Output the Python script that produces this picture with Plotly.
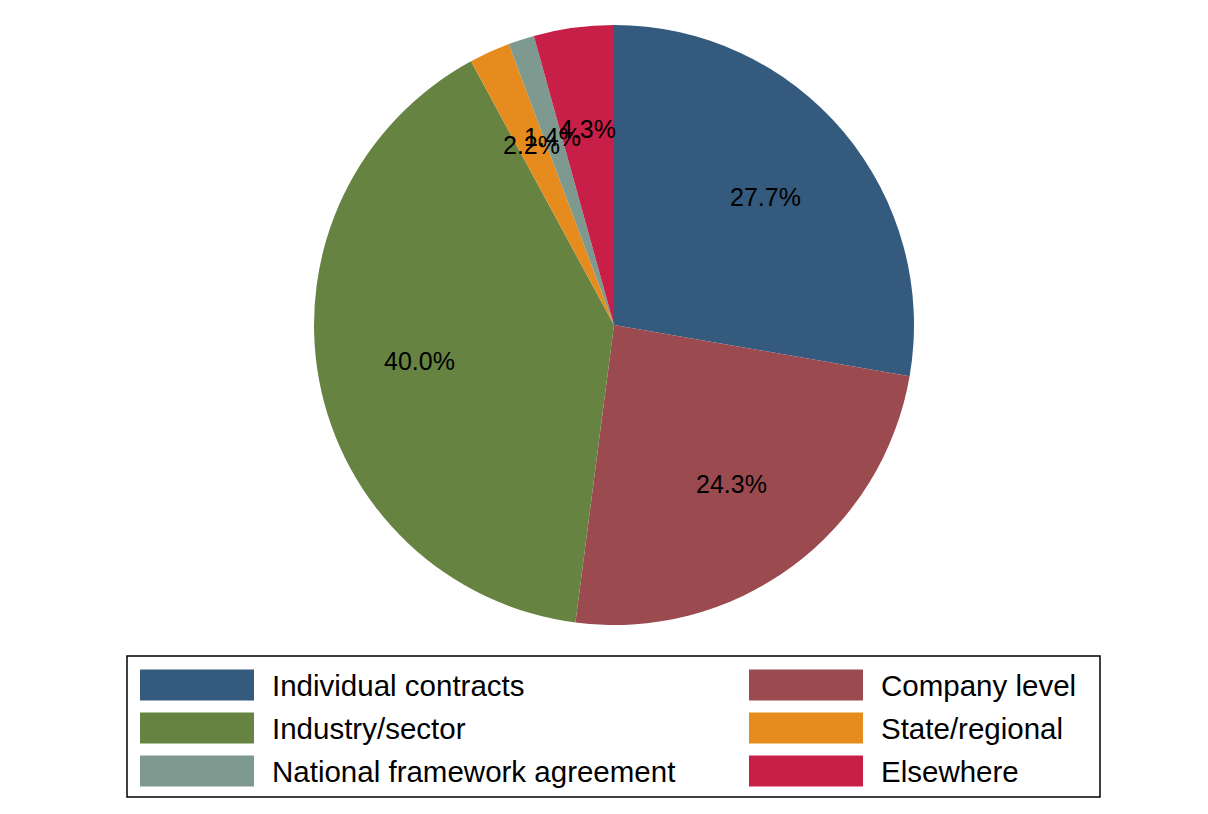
import math
import plotly.graph_objects as go

categories = ["Individual contracts", "Company level", "Industry/sector",
              "State/regional", "National framework agreement", "Elsewhere"]
values = [27.7, 24.3, 40.0, 2.2, 1.4, 4.3]
colors = ["#345A7E", "#9B4A50", "#678342", "#E68B1E", "#7E998F", "#C71F47"]
legend_order = [0, 1, 2, 3, 4, 5]

OFF = 8                      # page body margin
W, H = 1208 - 2 * OFF, 814 - 2 * OFF
cx, cy, R = 614 - OFF, 325 - OFF, 300
FONT = "Arial, Liberation Sans, sans-serif"


def px2x(p):
    return p / W


def px2y(p):
    return 1 - p / H


fig = go.Figure()
fig.add_trace(go.Pie(
    labels=categories, values=values, sort=False, direction="clockwise",
    rotation=0, marker=dict(colors=colors, line=dict(width=0)),
    textinfo="none", hoverinfo="label+percent", showlegend=False,
    domain=dict(x=[px2x(cx - R), px2x(cx + R)], y=[px2y(cy + R), px2y(cy - R)]),
))

annotations = []
total = sum(values)
cum = 0.0
for v in values:
    mid = (cum + v / 2) / total * 2 * math.pi
    cum += v
    px = cx + 0.66 * R * math.sin(mid)
    py = cy - 0.66 * R * math.cos(mid)
    annotations.append(dict(
        x=px2x(px), y=px2y(py), xref="paper", yref="paper", showarrow=False,
        text=f"{v / total * 100:.1f}%", font=dict(family=FONT, size=25, color="black"),
        xanchor="center", yanchor="middle"))

shapes = [dict(type="rect", xref="paper", yref="paper",
               x0=px2x(127 - OFF), x1=px2x(1100 - OFF),
               y0=px2y(797 - OFF), y1=px2y(656 - OFF),
               line=dict(color="black", width=1.5), fillcolor="rgba(0,0,0,0)")]

for k, idx in enumerate(legend_order):
    row, col = k // 2, k % 2
    sx = 140 + col * 609 - OFF
    yc = 685 + row * 43 - OFF
    shapes.append(dict(type="rect", xref="paper", yref="paper",
                       x0=px2x(sx), x1=px2x(sx + 114),
                       y0=px2y(yc + 15.5), y1=px2y(yc - 15.5),
                       line=dict(width=0), fillcolor=colors[idx]))
    annotations.append(dict(
        x=px2x(sx + 130), y=px2y(yc), xref="paper", yref="paper", showarrow=False,
        text=categories[idx], font=dict(family=FONT, size=29.5, color="black"),
        xanchor="left", yanchor="middle"))

fig.update_layout(
    width=W, height=H, margin=dict(l=0, r=0, t=0, b=0),
    paper_bgcolor="white", plot_bgcolor="white",
    shapes=shapes, annotations=annotations,
)

fig.write_html("out.html")
